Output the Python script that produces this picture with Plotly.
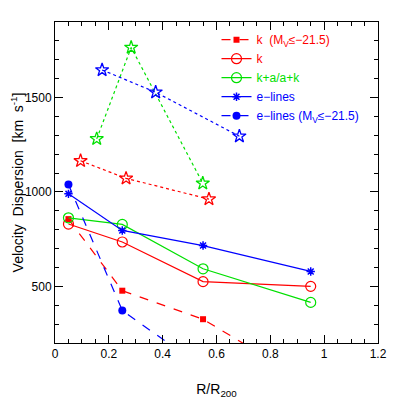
import plotly.graph_objects as go
from plotly.subplots import make_subplots

# radial bins
r_bins = [0.05, 0.25, 0.55, 0.95]

# velocity dispersion per population
k_bright = [856, 477, 326, -17]
k_all = [830, 735, 525, 500]
ka_all = [863, 828, 593, 415]
elines_all = [990, 796, 716, 579]
elines_bright = [1040, 372, 68]

# star points (no legend)
red_star_x = [0.095, 0.264, 0.572]
red_star_y = [1165, 1072, 962]
green_star_x = [0.155, 0.283, 0.549]
green_star_y = [1281, 1765, 1046]
blue_star_x = [0.175, 0.374, 0.685]
blue_star_y = [1646, 1528, 1295]

RED = "#ff0000"
GREEN = "#00e000"
BLUE = "#0000ff"
FONT = "Liberation Sans"

fig = make_subplots(rows=1, cols=1)

def lab(txt, col):
    return "<span style='color:%s'>%s</span>" % (col, txt)

fig.add_trace(go.Scatter(x=r_bins, y=k_bright, mode="lines+markers",
                         name=lab("k&#160;&#160;(M<sub>V</sub>≤−21.5)", RED),
                         line=dict(color=RED, dash="dash", width=1.2),
                         marker=dict(symbol="square", size=6, color=RED)))
fig.add_trace(go.Scatter(x=r_bins, y=k_all, mode="lines+markers",
                         name=lab("k", RED),
                         line=dict(color=RED, width=1.2),
                         marker=dict(symbol="circle-open", size=10, color=RED, line=dict(width=1.2))))
fig.add_trace(go.Scatter(x=r_bins, y=ka_all, mode="lines+markers",
                         name=lab("k+a/a+k", GREEN),
                         line=dict(color=GREEN, width=1.2),
                         marker=dict(symbol="circle-open", size=10, color=GREEN, line=dict(width=1.2))))
fig.add_trace(go.Scatter(x=r_bins, y=elines_all, mode="lines+markers",
                         name=lab("e−lines", BLUE),
                         line=dict(color=BLUE, width=1.2),
                         marker=dict(symbol="asterisk-open", size=7, color=BLUE, line=dict(width=1.5, color=BLUE))))
fig.add_trace(go.Scatter(x=r_bins[:3], y=elines_bright, mode="lines+markers",
                         name=lab("e−lines (M<sub>V</sub>≤−21.5)", BLUE),
                         line=dict(color=BLUE, dash="dash", width=1.2),
                         marker=dict(symbol="circle", size=8, color=BLUE)))

for sx, sy, col in [(red_star_x, red_star_y, RED),
                    (green_star_x, green_star_y, GREEN),
                    (blue_star_x, blue_star_y, BLUE)]:
    fig.add_trace(go.Scatter(x=sx, y=sy, mode="lines+markers", showlegend=False,
                             line=dict(color=col, dash="dot", width=1.2),
                             marker=dict(symbol="star-open", size=10, color=col, line=dict(width=1.3))))

# same tick setup as the panel test that drew its ticks
base = dict(ticks="inside", ticklen=8, tickwidth=1, tickcolor="black", showline=True,
            linecolor="black", mirror="allticks", showgrid=False, zeroline=False,
            tickfont=dict(family=FONT, size=12, color="black"))

fig.update_xaxes(range=[0, 1.2], dtick=0.2,
                 minor=dict(dtick=0.05, ticks="inside", ticklen=4, tickcolor="black", tickwidth=1),
                 row=1, col=1, **base)
fig.update_yaxes(range=[200, 1900], tickvals=[500, 1000, 1500],
                 minor=dict(dtick=100, ticks="inside", ticklen=4, tickcolor="black", tickwidth=1),
                 row=1, col=1, **base)
fig.update_xaxes(title_text="R/R<sub>200</sub>", title_font=dict(family=FONT, size=14, color="black"))
fig.update_yaxes(title_text="Velocity  Dispersion  [km  s<sup>-1</sup>]",
                 title_font=dict(family=FONT, size=14, color="black"))

# page body adds an 8px offset, so the figure is drawn a bit smaller
fig.update_layout(template="none", width=391, height=391,
                  margin=dict(l=47, r=21, t=14, b=56),
                  plot_bgcolor="white", paper_bgcolor="white",
                  legend=dict(x=0.5, y=0.99, xanchor="left", yanchor="top",
                              bgcolor="rgba(0,0,0,0)", font=dict(family=FONT, size=12)))

fig.write_html("out.html")
